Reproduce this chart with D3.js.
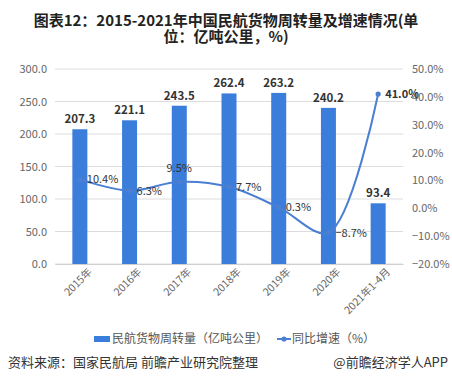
<!DOCTYPE html>
<html><head><meta charset="utf-8">
<script src="https://cdn.jsdelivr.net/npm/d3@7"></script>
<style>
html,body{margin:0;padding:0;background:#fff;}
svg{display:block;font-family:"Noto Sans CJK SC","Noto Sans",sans-serif;}
</style></head>
<body>
<svg id="c" width="452" height="390"></svg>
<script>
const categories = ["2015年","2016年","2017年","2018年","2019年","2020年","2021年1-4月"];
const volume = [207.3, 221.1, 243.5, 262.4, 263.2, 240.2, 93.4];
const growth = [10.4, 6.3, 9.5, 7.7, 0.3, -8.7, 41.0];
const leftTicks = [0, 50, 100, 150, 200, 250, 300];
const rightTicks = [-20, -10, 0, 10, 20, 30, 40, 50];
const titleLines = ["图表12：2015-2021年中国民航货物周转量及增速情况(单", "位：亿吨公里，%)"];
const legendLabels = ["民航货物周转量（亿吨公里）", "同比增速（%）"];
const sourceText = "资料来源：国家民航局 前瞻产业研究院整理";
const brandText = "@前瞻经济学人APP";

const svg = d3.select("#c");
const L = 55, R = 403, T = 69, B = 264;
const barColor = "#3b7ddb", lineColor = "#4a7fd3";

const x = d3.scaleBand().domain(categories).range([L, R]).paddingInner(0).paddingOuter(0);
const yL = d3.scaleLinear().domain([0, 300]).range([B, T]);
const yR = d3.scaleLinear().domain([-20, 50]).range([B, T]);

// title
svg.append("g").selectAll("text").data(titleLines).join("text")
  .attr("x", 226).attr("y", (d, i) => 26 + i * 16)
  .attr("text-anchor", "middle").attr("font-size", 15).attr("font-weight", "bold")
  .attr("fill", "#222").text(d => d);

// gridlines
svg.append("g").selectAll("line").data(leftTicks).join("line")
  .attr("x1", L).attr("x2", R).attr("y1", d => yL(d)).attr("y2", d => yL(d))
  .attr("stroke", "#dcdcdc").attr("stroke-width", 1);

// left axis
const gl = svg.append("g").attr("transform", `translate(${L},0)`)
  .call(d3.axisLeft(yL).tickValues(leftTicks).tickFormat(d3.format(".1f")).tickSize(0).tickPadding(8));
gl.select(".domain").remove();
gl.selectAll("text").attr("font-size", 11).attr("fill", "#666").attr("font-family", "Noto Sans CJK SC");

// right axis
const gr = svg.append("g").attr("transform", `translate(${R},0)`)
  .call(d3.axisRight(yR).tickValues(rightTicks).tickFormat(d => d3.format(".1f")(d) + "%").tickSize(0).tickPadding(9));
gr.select(".domain").remove();
gr.selectAll("text").attr("font-size", 11).attr("fill", "#666").attr("font-family", "Noto Sans CJK SC");

// bottom axis
const gb = svg.append("g").attr("transform", `translate(0,${B})`)
  .call(d3.axisBottom(x).tickSize(0).tickPadding(6));
gb.select(".domain").attr("stroke", "#d0d0d0");
gb.selectAll("text").attr("font-size", 10.5).attr("fill", "#666")
  .attr("text-anchor", "end").attr("dy", "0.6em")
  .attr("transform", "translate(4,0) rotate(-45)").attr("font-family", "Noto Sans CJK SC");

// bars
const bw = 15;
svg.append("g").selectAll("rect").data(volume).join("rect")
  .attr("x", (d, i) => x(categories[i]) + x.bandwidth() / 2 - bw / 2)
  .attr("y", d => yL(d)).attr("width", bw).attr("height", d => B - yL(d))
  .attr("fill", barColor);

svg.append("g").selectAll("text").data(volume).join("text")
  .attr("x", (d, i) => x(categories[i]) + x.bandwidth() / 2)
  .attr("y", d => yL(d) - 6)
  .attr("text-anchor", "middle").attr("font-size", 11.5).attr("font-weight", "bold")
  .attr("fill", "#333").text(d => d3.format(".1f")(d));

// line
const pts = growth.map((g, i) => [x(categories[i]) + x.bandwidth() / 2, yR(g)]);
svg.append("path").datum(pts)
  .attr("d", d3.line().curve(d3.curveCatmullRom.alpha(0.5)))
  .attr("fill", "none").attr("stroke", lineColor).attr("stroke-width", 2);
svg.append("g").selectAll("circle").data(pts).join("circle")
  .attr("cx", d => d[0]).attr("cy", d => d[1]).attr("r", 2.6).attr("fill", lineColor);

svg.append("g").selectAll("text").data(growth).join("text")
  .attr("x", (d, i) => i === 2 ? pts[i][0] : pts[i][0] + 7)
  .attr("y", (d, i) => i === 2 ? pts[i][1] - 10 : pts[i][1] + 4)
  .attr("text-anchor", (d, i) => i === 2 ? "middle" : "start")
  .attr("font-size", 11).attr("fill", "#333").attr("font-weight", (d, i) => i === 6 ? "bold" : "normal")
  .text(d => d3.format(".1f")(d) + "%");

// legend
const lg = svg.append("g");
lg.append("rect").attr("x", 94).attr("y", 336).attr("width", 16).attr("height", 6).attr("fill", barColor);
lg.append("text").attr("x", 112).attr("y", 343).attr("font-size", 12).attr("fill", "#555").text(legendLabels[0]);
lg.append("line").attr("x1", 277).attr("x2", 291).attr("y1", 339).attr("y2", 339).attr("stroke", lineColor).attr("stroke-width", 2);
lg.append("circle").attr("cx", 284).attr("cy", 339).attr("r", 2.6).attr("fill", lineColor);
lg.append("text").attr("x", 292).attr("y", 343).attr("font-size", 12).attr("fill", "#555").text(legendLabels[1]);

// footer
svg.append("text").attr("x", 8).attr("y", 367).attr("font-size", 13).attr("fill", "#333").text(sourceText);
svg.append("text").attr("x", 448).attr("y", 367).attr("text-anchor", "end").attr("font-size", 13).attr("fill", "#333").text(brandText);
</script>
</body></html>
